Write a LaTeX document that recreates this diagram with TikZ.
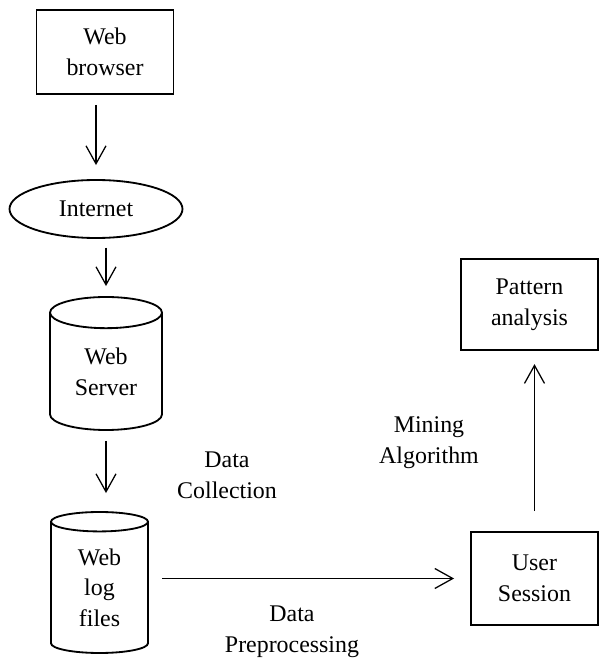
\documentclass[tikz,border=0pt]{standalone}
\usepackage{fontspec}
\setmainfont{Liberation Serif}
\usetikzlibrary{shapes.geometric,arrows,arrows.meta,calc,positioning}

\begin{document}
\begin{tikzpicture}[line width=1.3pt, font=\fontsize{17}{22}\selectfont]
   \useasboundingbox (0,0) rectangle (15,16.5);
   \begin{scope}[every node/.style={draw,align=center,inner sep=0pt}]
    \node (browser) [rectangle,minimum width=3.425cm,minimum height=2.1cm] at (2.625,15.2) {Web\\browser};
    \node (internet) [ellipse,minimum width=4.325cm,minimum height=1.45cm] at (2.4,11.275) {Internet};
    \node (server) [cylinder,shape border rotate=90,aspect=0.5,minimum width=2.8cm,minimum height=3.325cm,anchor=shape center] at (2.65,7.4125) {Web\\Server};
    \node (logs) [cylinder,shape border rotate=90,aspect=0.45,minimum width=2.425cm,minimum height=3.525cm,anchor=shape center] at (2.4875,1.9375) {Web\\log\\files};
    \node (session) [rectangle,minimum width=3.175cm,minimum height=2.325cm] at (13.3625,2.0375) {User\\Session};
    \node (pattern) [rectangle,minimum width=3.425cm,minimum height=2.275cm] at (13.2375,8.8875) {Pattern\\analysis};
   \end{scope}
   \begin{scope}[align=center]
    \node (collect) at (5.675,4.625) {Data\\Collection};
    \node (mining) at (10.725,5.425) {Mining\\Algorithm};
    \node (preproc) at (7.3,0.7) {Data\\Preprocessing};
   \end{scope}
   \begin{scope}[->,>={Straight Barb[length=4.5mm,width=5mm]},line width=0.9pt]
    \draw [shorten <=0.25cm, shorten >=0.35cm] (browser.south -| internet.north) -- (internet.north);
    \draw [shorten <=0.22cm, shorten >=0.25cm] (internet.south -| server.north) -- (server.north);
    \draw [shorten <=0.25cm, shorten >=0.45cm] (server.south) -- (server.south |- logs.north);
    \draw [shorten <=0.33cm, shorten >=0.4cm] (logs.east |- session.west) -- (session.west);
    \draw [shorten <=0.5cm, shorten >=0.33cm] (session.north) -- (session.north |- pattern.south);
   \end{scope}
\end{tikzpicture}
\end{document}
